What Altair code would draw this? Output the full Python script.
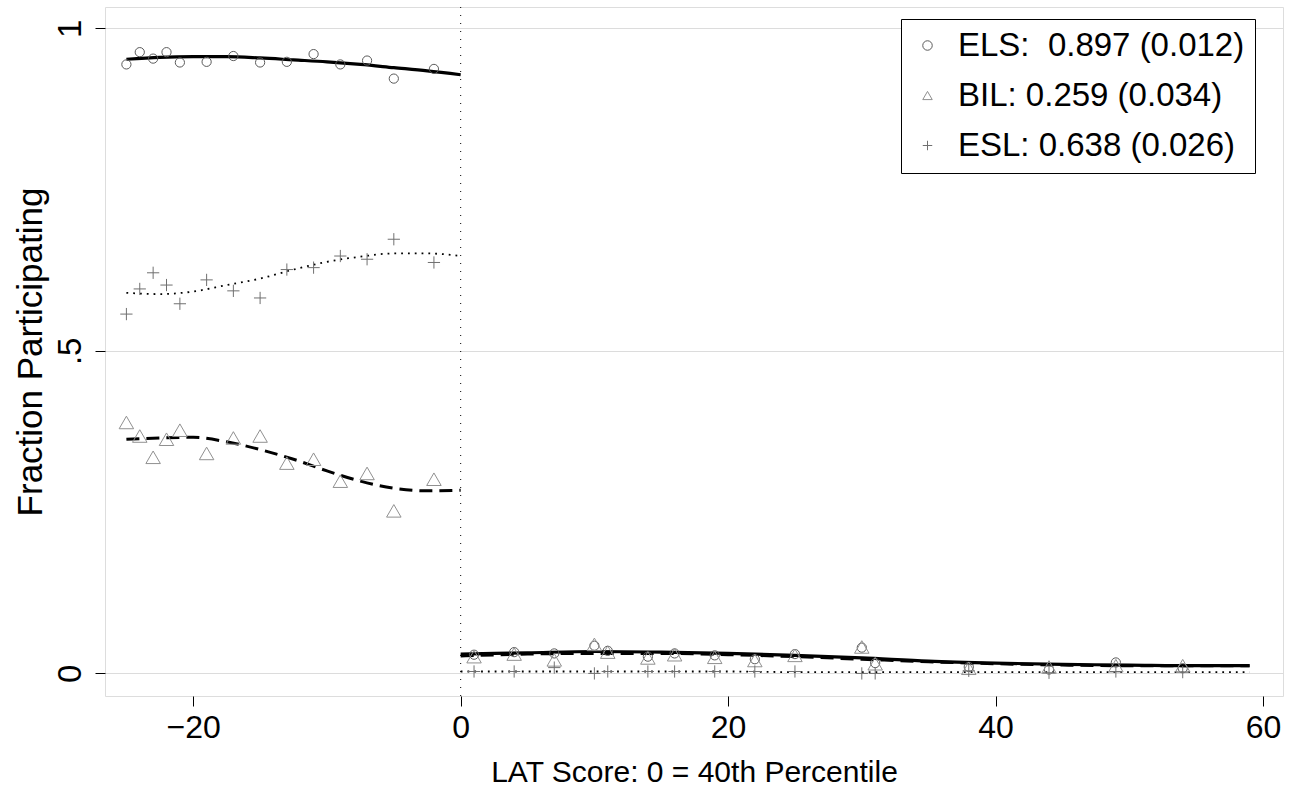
import altair as alt
import pandas as pd

# ---- data ----
left_x = [-25, -24, -23, -22, -21, -19, -17, -15, -13, -11, -9, -7, -5, -2]
right_x = [1, 4, 7, 10, 11, 14, 16, 19, 22, 25, 30, 31, 38, 44, 49, 54]

els_left = [0.944, 0.963, 0.953, 0.963, 0.947, 0.948, 0.957, 0.947, 0.948, 0.960, 0.944, 0.950, 0.922, 0.937]
bil_left = [0.389, 0.368, 0.335, 0.363, 0.377, 0.341, 0.365, 0.368, 0.326, 0.332, 0.298, 0.310, 0.252, 0.301]
esl_left = [0.557, 0.596, 0.621, 0.602, 0.573, 0.610, 0.593, 0.582, 0.626, 0.629, 0.647, 0.642, 0.673, 0.637]

els_right = [0.029, 0.033, 0.031, 0.043, 0.035, 0.026, 0.031, 0.028, 0.022, 0.030, 0.040, 0.016, 0.010, 0.006, 0.017, 0.008]
bil_right = [0.026, 0.030, 0.021, 0.045, 0.033, 0.024, 0.029, 0.025, 0.020, 0.028, 0.041, 0.015, 0.008, 0.010, 0.012, 0.012]
esl_right = [0.003, 0.003, 0.009, 0.000, 0.003, 0.003, 0.003, 0.003, 0.003, 0.003, 0.000, 0.000, 0.004, 0.001, 0.003, 0.002]

fit_left_x = [-25, -22.5, -20, -17.5, -15, -12.5, -10, -7.5, -5, -2.5, 0]
els_fit_left = [0.952, 0.955, 0.956, 0.956, 0.954, 0.951, 0.948, 0.944, 0.939, 0.934, 0.928]
bil_fit_left = [0.363, 0.365, 0.366, 0.359, 0.347, 0.332, 0.314, 0.298, 0.287, 0.283, 0.284]
esl_fit_left = [0.590, 0.588, 0.592, 0.602, 0.612, 0.626, 0.638, 0.646, 0.651, 0.651, 0.647]

fit_right_x = [0, 5, 10, 15, 20, 25, 30, 35, 40, 45, 50, 55, 59]
els_fit_right = [0.030, 0.032, 0.034, 0.033, 0.031, 0.028, 0.024, 0.019, 0.016, 0.014, 0.013, 0.012, 0.012]
bil_fit_right = [0.027, 0.030, 0.031, 0.031, 0.029, 0.026, 0.022, 0.018, 0.015, 0.013, 0.012, 0.012, 0.012]
esl_fit_right = [0.003, 0.003, 0.003, 0.003, 0.003, 0.002, 0.002, 0.002, 0.002, 0.002, 0.002, 0.002, 0.002]

labels = ["ELS:\u00a0 0.897 (0.012)\u00a0\u00a0", "BIL: 0.259 (0.034)\u00a0\u00a0", "ESL: 0.638 (0.026)\u00a0\u00a0"]
series = ["ELS", "BIL", "ESL"]
shapes = ["circle", "triangle-up", "M-1,0H1M0,-1V1"]
marker_colors = ["#5a5a5a", "#909090", "#707070"]
marker_sizes = [85, 210, 150]

# ---- tables ----
pts = []
for s, lab, yl, yr in zip(series, labels, [els_left, bil_left, esl_left], [els_right, bil_right, esl_right]):
    for x, y in zip(left_x, yl):
        pts.append({"x": x, "y": y, "series": s, "label": lab})
    for x, y in zip(right_x, yr):
        pts.append({"x": x, "y": y, "series": s, "label": lab})
pts = pd.DataFrame(pts)

fits = []
for s, yl, yr in zip(series, [els_fit_left, bil_fit_left, esl_fit_left], [els_fit_right, bil_fit_right, esl_fit_right]):
    for x, y in zip(fit_left_x, yl):
        fits.append({"x": x, "y": y, "series": s, "seg": "L"})
    for x, y in zip(fit_right_x, yr):
        fits.append({"x": x, "y": y, "series": s, "seg": "R"})
fits = pd.DataFrame(fits)

FONT = "Liberation Sans"
xs = alt.Scale(domain=[-26.6, 61.5], nice=False, zero=False)
ys = alt.Scale(domain=[-0.035, 1.033], nice=False, zero=False)

xax = alt.Axis(values=[-20, 0, 20, 40, 60], title="LAT Score: 0 = 40th Percentile",
               grid=False, domain=False, tickColor="black", tickSize=10, tickWidth=1,
               labelFontSize=32, labelFont=FONT, labelColor="black", labelPadding=6,
               titleFontSize=30, titleFont=FONT, titleFontWeight="normal", titleColor="black",
               titleY=76, titleBaseline="middle")
yax = alt.Axis(values=[0, 0.5, 1], title="Fraction Participating",
               labelExpr="datum.value == 0.5 ? '.5' : (datum.value == 1 ? '1' : '0')",
               grid=True, gridColor="#dcdcdc", gridWidth=1, domain=False,
               tickColor="black", tickSize=10, tickWidth=1,
               labelFontSize=33, labelFont=FONT, labelColor="black", labelAngle=-90,
               labelAlign="center", labelBaseline="bottom", labelPadding=8,
               titleFontSize=35, titleFont=FONT, titleFontWeight="normal", titleColor="black",
               titleX=-75, titleBaseline="middle")

legend = alt.Legend(
    title=None, orient="none", legendX=796, legendY=12,
    strokeColor="black", fillColor="white", padding=10,
    labelFont=FONT, labelFontSize=33, labelColor="black", labelOffset=14,
    symbolSize=90, symbolStrokeWidth=1, rowPadding=16, labelLimit=500,
    cornerRadius=0,
)

shape_scale = alt.Scale(domain=labels, range=shapes)
color_scale = alt.Scale(domain=labels, range=marker_colors)

layers = []
vline = alt.Chart(pd.DataFrame({"x": [0]})).mark_rule(color="black", strokeWidth=1, strokeDash=[1, 7]).encode(
    x=alt.X("x:Q", scale=xs, axis=xax))
layers.append(vline)

def fit_layer(s, width, dash=None):
    kw = dict(color="black", strokeWidth=width, interpolate="monotone")
    if dash is not None:
        kw["strokeDash"] = dash
    return alt.Chart(fits[fits.series == s]).mark_line(**kw).encode(
        x=alt.X("x:Q", scale=xs, axis=xax), y=alt.Y("y:Q", scale=ys, axis=yax), detail="seg:N")

layers.append(fit_layer("ELS", 3.2))
layers.append(fit_layer("BIL", 3.0, [13, 7]))
layers.append(fit_layer("ESL", 1.8, [1.8, 5]))

for s, sz in zip(series, marker_sizes):
    layers.append(
        alt.Chart(pts[pts.series == s]).mark_point(filled=False, strokeWidth=1, opacity=1, size=sz).encode(
            x=alt.X("x:Q", scale=xs, axis=xax),
            y=alt.Y("y:Q", scale=ys, axis=yax),
            shape=alt.Shape("label:N", scale=shape_scale, legend=legend),
            color=alt.Color("label:N", scale=color_scale, legend=legend),
        )
    )

chart = alt.layer(*layers).properties(
    width=1178, height=689,
    autosize=alt.AutoSizeParams(type="none"),
    padding={"left": 105, "top": 7, "right": 13, "bottom": 98},
).configure_view(
    stroke="black", strokeWidth=1.5
).configure(background="white")

chart.save("out.html", embed_options={"renderer": "svg", "actions": False})
